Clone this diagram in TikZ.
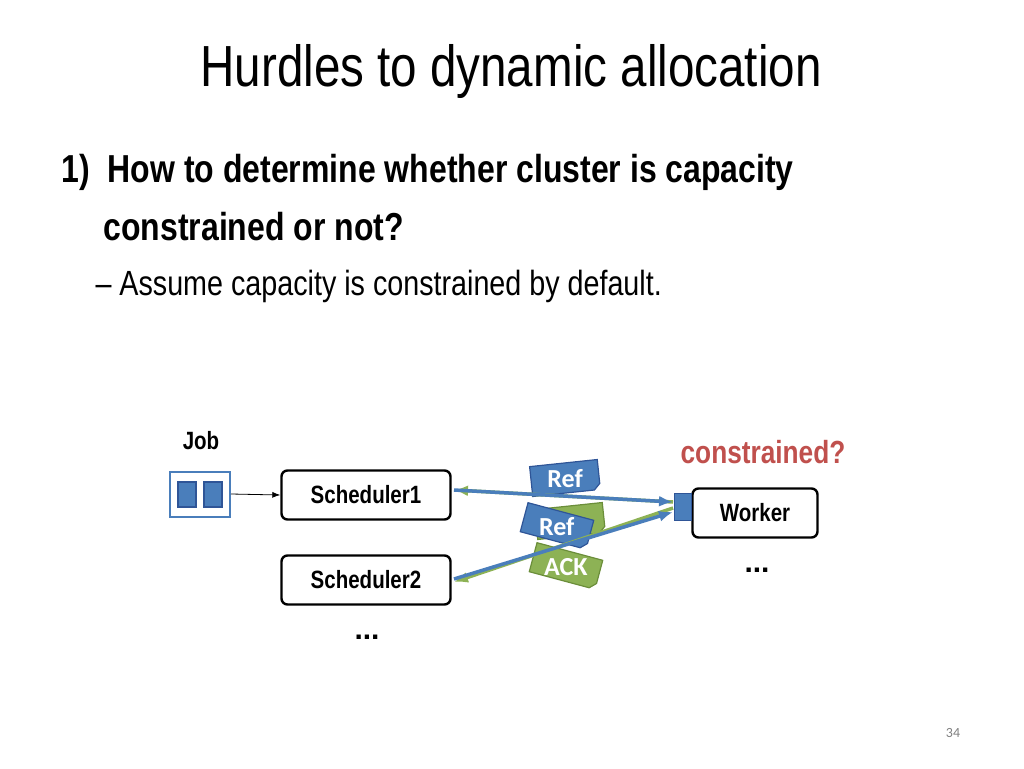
\documentclass[tikz,border=0pt]{standalone}
\usepackage{fontspec}
\setmainfont{Liberation Sans}
\newfontfamily\narrowf[FakeStretch=0.82]{Liberation Sans}
\newfontfamily\calf{Carlito}
\usetikzlibrary{arrows.meta}
\definecolor{bl}{HTML}{4A7EBB}
\definecolor{bld}{HTML}{2F5597}
\definecolor{gr}{HTML}{8DB255}
\definecolor{grd}{HTML}{6B8E3A}
\definecolor{rd}{HTML}{C0504D}
\tikzset{
  sched/.style={draw,line width=2.4pt,rounded corners=6pt,minimum width=169pt,minimum height=49pt,font=\narrowf\bfseries\fontsize{25}{28}\selectfont,inner sep=0pt},
  tagshape/.style={font=\calf\bfseries\fontsize{26}{28}\selectfont,text=white,inner sep=0pt},
  barrow/.style={draw=bl,line width=3.5pt,-{Latex[length=14pt,width=11pt]}},
  garrow/.style={draw=gr,line width=3.5pt,-{Latex[length=14pt,width=11pt]}},
}
\newcommand{\tagat}[5]{% pos, angle, fill, draw, text
  \begin{scope}[shift={#1},rotate=#2]
    \fill[#3,draw=#4,line width=1.2pt] (-34,-15) -- (34,-15) -- (34,9) -- (28,15) -- (-34,15) -- cycle;
    \node[tagshape] at (0,1) {#5};
  \end{scope}}
\begin{document}
\begin{tikzpicture}[x=1pt,y=-1pt]
\useasboundingbox (0,0) rectangle (1024,768);
\node[font=\narrowf\fontsize{58}{64}\selectfont] (title) at (511,72) {Hurdles to dynamic allocation};
\node[anchor=west,font=\narrowf\bfseries\fontsize{39}{44}\selectfont] (b1) at (58,172) {1)\ \ How to determine whether cluster is capacity};
\node[anchor=west,font=\narrowf\bfseries\fontsize{39}{44}\selectfont] (b1b) at (100,227) {constrained or not?};
\node[anchor=west,font=\narrowf\fontsize{35}{40}\selectfont] (b2) at (92,286) {– Assume capacity is constrained by default.};

\node[font=\narrowf\bfseries\fontsize{25}{28}\selectfont] (joblbl) at (201,441) {Job};
\node[draw=bl,line width=2pt,fill=white,minimum width=60pt,minimum height=45pt] (job) at (200,494) {};
\fill[bl,draw=bld,line width=1.2pt] (178,482) rectangle (196,507);
\fill[bl,draw=bld,line width=1.2pt] (204,482) rectangle (222,507);
\node[sched] (s1) at (366,495) {Scheduler1};
\node[sched] (s2) at (366,580) {Scheduler2};
\draw[-{Latex[length=8pt,width=6pt]},line width=0.8pt] (job.east) -- (s1.west);
\node[sched,minimum width=125pt] (w) at (755,513) {Worker};
\node[fill=bl,draw=bld,line width=1.2pt,minimum width=17pt,minimum height=27pt,inner sep=0pt] (sq) at (683,507) {};
\node[font=\narrowf\bfseries\fontsize{32}{36}\selectfont,text=rd] (con) at (763,452) {constrained?};
\node[font=\bfseries\fontsize{30}{30}\selectfont] (d1) at (757,570) {...};
\node[font=\bfseries\fontsize{30}{30}\selectfont] (d2) at (367,637) {...};
\node[font=\calf\fontsize{14}{16}\selectfont,text=gray] (pg) at (953,733) {34};

\tagat{(565,478)}{6}{bl}{bld}{Ref}
\tagat{(570,521)}{6}{gr}{grd}{}
\tagat{(557,526)}{-15}{bl}{bld}{Ref}
\tagat{(566,566)}{-15}{gr}{grd}{ACK}

\coordinate (w1) at (673,502);
\coordinate (w2) at (673,508);
\coordinate (w3) at (673,512);
\draw[garrow] (w1) -- (454,490);
\draw[barrow] (454,490) -- (w1);
\draw[garrow] (w2) -- (454,582);
\draw[barrow] (454,579) -- (w3);
\end{tikzpicture}
\end{document}
